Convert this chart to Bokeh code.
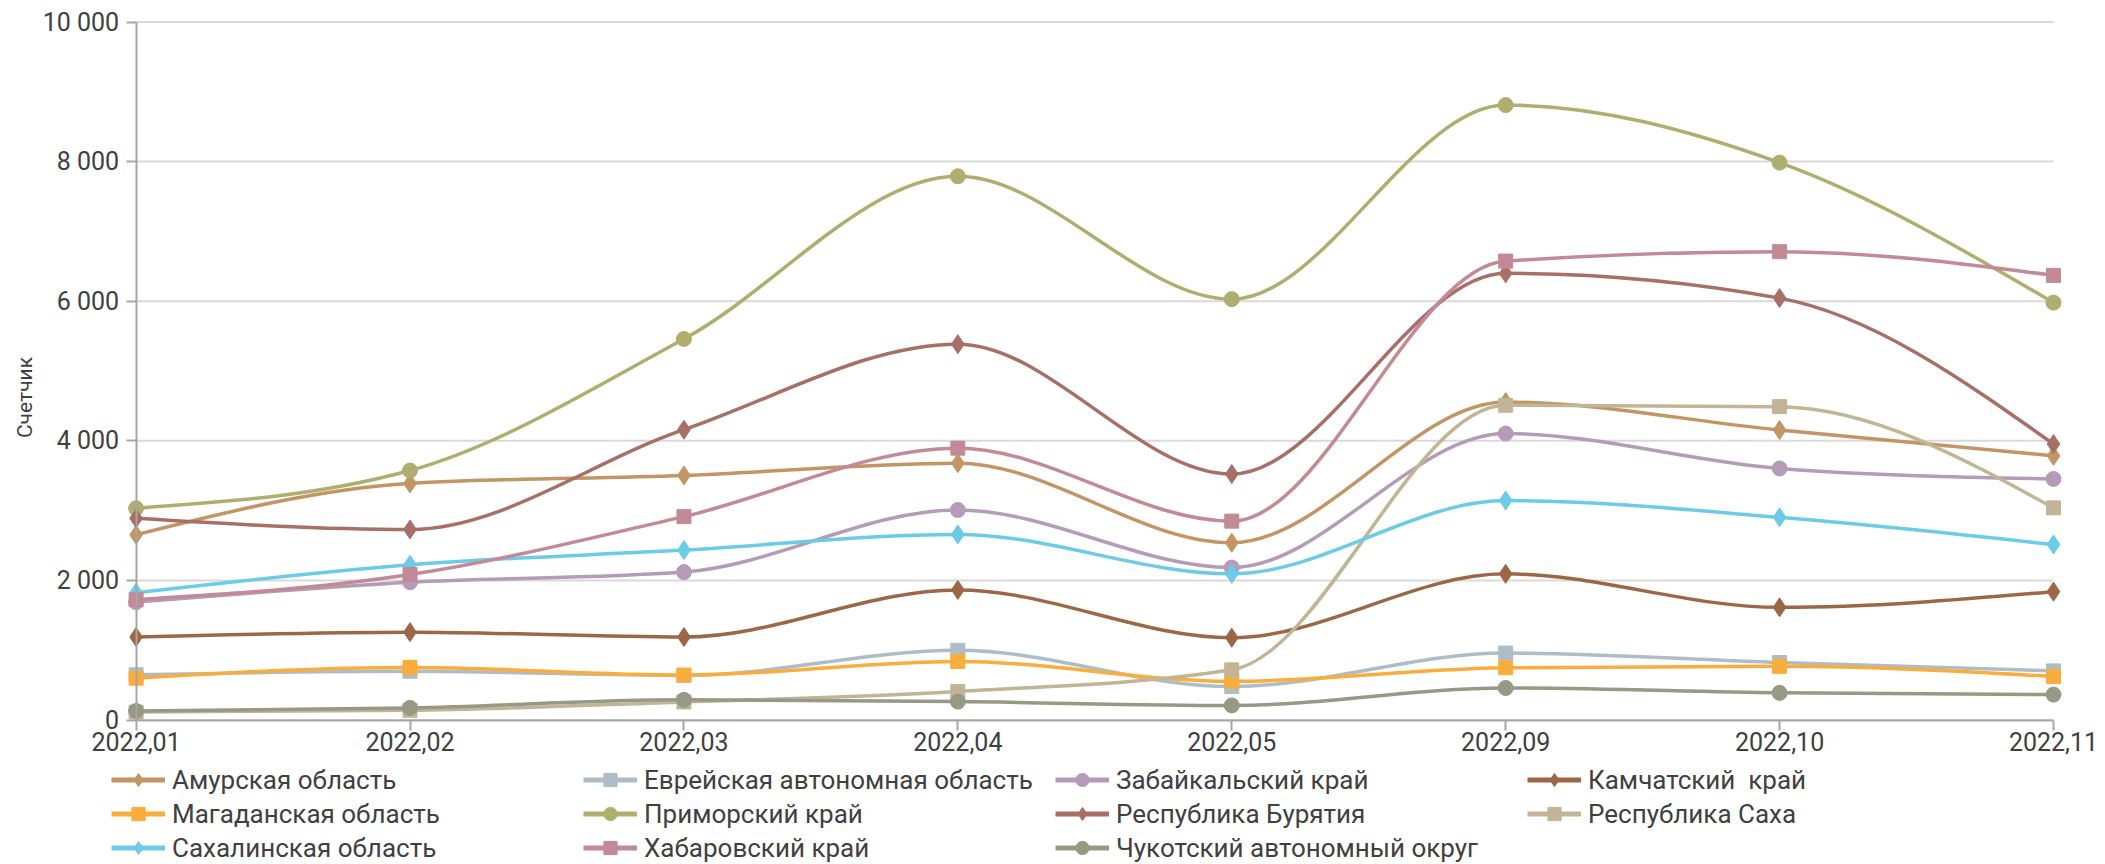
import math
from bokeh.plotting import figure
from bokeh.models import (Range1d, FixedTicker, Legend, LegendItem, ColumnDataSource, Label)
from bokeh.layouts import column
from bokeh.embed import file_html
from bokeh.resources import INLINE

categories = ["2022,01", "2022,02", "2022,03", "2022,04", "2022,05", "2022,09", "2022,10", "2022,11"]

amur = [2655, 3390, 3505, 3680, 2540, 4555, 4155, 3785]
evrei = [650, 700, 640, 1000, 480, 960, 825, 705]
zabaik = [1690, 1975, 2120, 3010, 2185, 4105, 3605, 3455]
kamch = [1190, 1260, 1190, 1865, 1180, 2095, 1615, 1840]
magad = [600, 755, 645, 840, 555, 750, 770, 625]
primor = [3035, 3575, 5460, 7790, 6030, 8810, 7985, 5980]
buryat = [2890, 2730, 4160, 5385, 3525, 6400, 6045, 3955]
sakha = [115, 140, 260, 410, 720, 4510, 4490, 3040]
sakhalin = [1825, 2225, 2435, 2660, 2095, 3145, 2905, 2515]
khabar = [1725, 2085, 2915, 3895, 2850, 6575, 6710, 6370]
chukot = [130, 175, 290, 265, 210, 460, 390, 365]

y_ticks = [0, 2000, 4000, 6000, 8000, 10000]
y_tick_labels = ["0", "2 000", "4 000", "6 000", "8 000", "10 000"]
y_title = "Счетчик"

series = [
    ("Амурская область", amur, "#c39464", "diamond"),
    ("Еврейская автономная область", evrei, "#adbdc7", "square"),
    ("Забайкальский край", zabaik, "#b49cb8", "circle"),
    ("Камчатский  край", kamch, "#9c6747", "diamond"),
    ("Магаданская область", magad, "#f9ad3c", "square"),
    ("Приморский край", primor, "#b0ae6e", "circle"),
    ("Республика Бурятия", buryat, "#a86f66", "diamond"),
    ("Республика Саха", sakha, "#c2b596", "square"),
    ("Сахалинская область", sakhalin, "#6ccbe6", "diamond"),
    ("Хабаровский край", khabar, "#c38997", "square"),
    ("Чукотский автономный округ", chukot, "#969984", "circle"),
]
marker_sizes = {"diamond": 19, "square": 14, "circle": 15}

TEXT = "#404040"
AXIS = "#a6a6a6"

# layout (pixels): the whole chart area is one frame, axes are pinned at 0
W, H_MAIN, H_LEG = 2100, 762, 102
AX_LEFT, AX_RIGHT = 135.6, 2053.0     # first / last category position
AX_TOP, AX_BOTTOM = 21.5, 719.6       # top / bottom of value scale
Y_MAX = 10000
last = len(categories) - 1
px_per_cat = (AX_RIGHT - AX_LEFT) / last
x_start = -AX_LEFT / px_per_cat
x_end = last + (W - AX_RIGHT) / px_per_cat
px_per_val = (AX_BOTTOM - AX_TOP) / Y_MAX
y_end = Y_MAX + AX_TOP / px_per_val
y_start = -(H_MAIN - AX_BOTTOM) / px_per_val


def monotone_tangents(xs, ys):
    n = len(xs)
    t = [0.0] * n
    def sgn(v):
        return (v > 0) - (v < 0)
    for i in range(1, n - 1):
        h0 = xs[i] - xs[i - 1]
        h1 = xs[i + 1] - xs[i]
        s0 = (ys[i] - ys[i - 1]) / h0
        s1 = (ys[i + 1] - ys[i]) / h1
        pp = (s0 * h1 + s1 * h0) / (h0 + h1)
        t[i] = (sgn(s0) + sgn(s1)) * min(abs(s0), abs(s1), 0.5 * abs(pp))
    h = xs[1] - xs[0]
    t[0] = (3 * (ys[1] - ys[0]) / h - t[1]) / 2
    h = xs[-1] - xs[-2]
    t[-1] = (3 * (ys[-1] - ys[-2]) / h - t[-2]) / 2
    return t


main = figure(width=W, height=H_MAIN, output_backend="svg", toolbar_location=None,
              x_range=Range1d(x_start, x_end), y_range=Range1d(y_start, y_end),
              min_border_left=0, min_border_top=0, min_border_right=0, min_border_bottom=0)
main.outline_line_color = None
main.background_fill_color = "white"
main.border_fill_color = "white"
main.xgrid.visible = False
main.ygrid.visible = False

# horizontal gridlines between the value axis and the last category
main.segment(x0=[0] * len(y_ticks), x1=[last] * len(y_ticks), y0=y_ticks, y1=y_ticks,
             line_color="#d9d9d9", line_width=2)

main.yaxis.ticker = FixedTicker(ticks=y_ticks)
main.yaxis.major_label_overrides = {t: l for t, l in zip(y_ticks, y_tick_labels)}
main.yaxis.fixed_location = 0
main.yaxis.bounds = (0, Y_MAX)
main.xaxis.ticker = FixedTicker(ticks=list(range(len(categories))))
main.xaxis.major_label_overrides = {i: c for i, c in enumerate(categories)}
main.xaxis.fixed_location = 0
main.xaxis.bounds = (0, last)

for ax in (main.xaxis[0], main.yaxis[0]):
    ax.axis_line_color = AXIS
    ax.axis_line_width = 2
    ax.major_tick_line_color = AXIS
    ax.major_tick_line_width = 2
    ax.major_tick_in = 0
    ax.major_tick_out = 10
    ax.minor_tick_line_color = None
    ax.major_label_text_font = "Roboto"
    ax.major_label_text_font_size = "25px"
    ax.major_label_text_color = TEXT
main.xaxis.major_label_standoff = 2
main.yaxis.major_label_standoff = 7

main.add_layout(Label(x=x_start + 24 / px_per_cat, y=(AX_BOTTOM - 397) / px_per_val,
                      text=y_title, angle=math.pi / 2,
                      text_align="center", text_baseline="middle", text_font="Roboto",
                      text_font_size="21px", text_color=TEXT))

for name, vals, color, marker in series:
    n = len(vals)
    xs = list(range(n))
    tg = monotone_tangents(xs, vals)
    x0, y0, x1, y1, cx0, cy0, cx1, cy1 = [], [], [], [], [], [], [], []
    for i in range(n - 1):
        dx = xs[i + 1] - xs[i]
        x0.append(xs[i]); y0.append(vals[i])
        x1.append(xs[i + 1]); y1.append(vals[i + 1])
        cx0.append(xs[i] + dx / 3.0)
        cy0.append(vals[i] + dx * tg[i] / 3.0)
        cx1.append(xs[i + 1] - dx / 3.0)
        cy1.append(vals[i + 1] - dx * tg[i + 1] / 3.0)
    src = ColumnDataSource(dict(x0=x0, y0=y0, x1=x1, y1=y1, cx0=cx0, cy0=cy0, cx1=cx1, cy1=cy1))
    main.bezier(x0="x0", y0="y0", x1="x1", y1="y1", cx0="cx0", cy0="cy0", cx1="cx1", cy1="cy1",
                source=src, line_color=color, line_width=3.5, line_cap="round")
    main.scatter(x=xs, y=vals, marker=marker, size=marker_sizes[marker],
                 fill_color=color, line_color=color, line_width=1)

# legend in its own strip below the chart
leg = figure(width=W, height=H_LEG, output_backend="svg", toolbar_location=None,
             x_range=Range1d(0, 1), y_range=Range1d(0, 1),
             x_axis_location=None, y_axis_location=None,
             min_border_left=0, min_border_right=0, min_border_top=0, min_border_bottom=0)
leg.grid.visible = False
leg.outline_line_color = None
leg.background_fill_color = "white"
leg.border_fill_color = "white"

items = []
for name, vals, color, marker in series:
    lr = leg.line(x=[-10, -9], y=[-10, -10], line_color=color, line_width=5)
    sr = leg.scatter(x=[-10], y=[-10], marker=marker, size=marker_sizes[marker],
                     fill_color=color, line_color=color)
    items.append(LegendItem(label=name, renderers=[lr, sr]))

legend = Legend(items=items, orientation="horizontal", ncols=4,
                location=(111, 0),
                label_text_font="Roboto", label_text_font_size="26px",
                label_text_color=TEXT, label_standoff=7,
                glyph_width=54, glyph_height=33, label_height=33, label_width=410,
                spacing=1, padding=0, margin=0,
                border_line_color=None, background_fill_alpha=0)
leg.add_layout(legend)

layout = column(main, leg, spacing=0)
open("out.html", "w").write(file_html(layout, INLINE))
